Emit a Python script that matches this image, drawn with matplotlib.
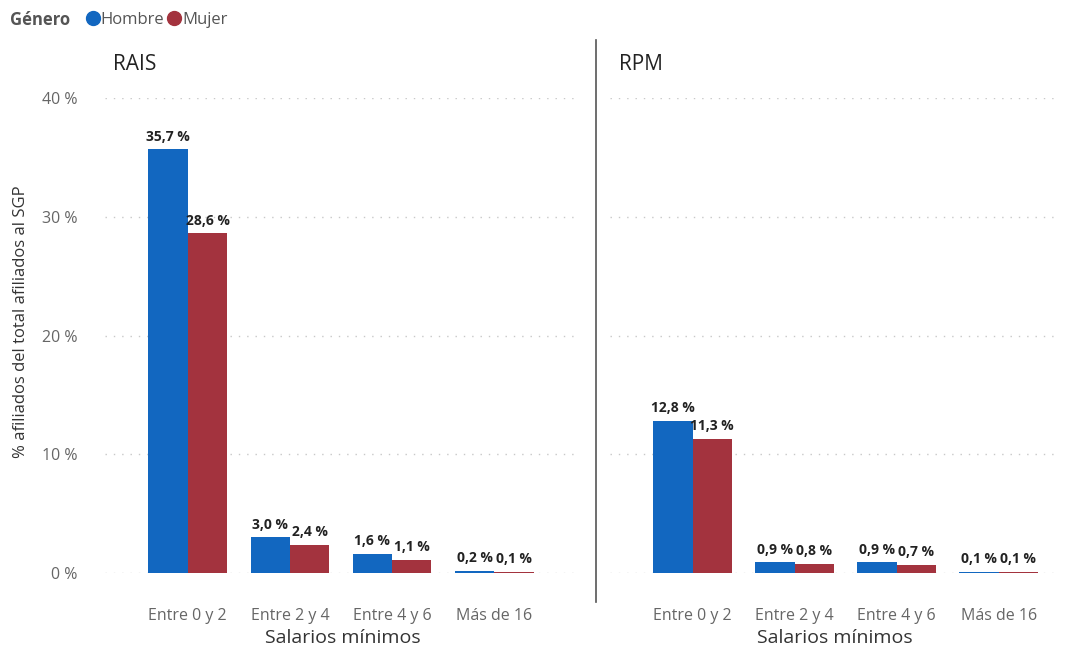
import matplotlib.pyplot as plt
from matplotlib.lines import Line2D
import numpy as np

plt.rcParams['font.family'] = ['Open Sans', 'DejaVu Sans']

categorias = ['Entre 0 y 2', 'Entre 2 y 4', 'Entre 4 y 6', 'Más de 16']
rais_hombre = [35.7, 3.0, 1.6, 0.2]
rais_mujer = [28.6, 2.4, 1.1, 0.1]
rpm_hombre = [12.8, 0.9, 0.9, 0.1]
rpm_mujer = [11.3, 0.8, 0.7, 0.1]
yticks = [0, 10, 20, 30, 40]

azul = '#1267C0'
rojo = '#A3333E'
gris = '#666666'


def fmt(v):
    return f'{v:.1f} %'.replace('.', ',')


def panel(ax, titulo, hombre, mujer, show_y):
    x = np.arange(len(categorias))
    w = 0.385
    b1 = ax.bar(x - w / 2, hombre, w, color=azul, zorder=3)
    b2 = ax.bar(x + w / 2, mujer, w, color=rojo, zorder=3)
    for bars, vals in ((b1, hombre), (b2, mujer)):
        for b, v in zip(bars, vals):
            ax.annotate(fmt(v), (b.get_x() + b.get_width() / 2, v),
                        xytext=(0, 4), textcoords='offset points',
                        ha='center', va='bottom', fontsize=10,
                        fontweight='bold', color='#222222', zorder=4)
    ax.set_ylim(0, 40)
    ax.set_yticks(yticks)
    ax.set_xticks(x)
    ax.set_xticklabels(categorias, fontsize=11.5, color=gris)
    ax.tick_params(axis='x', length=0, pad=25)
    ax.tick_params(axis='y', length=0, pad=20)
    if show_y:
        ax.set_yticklabels([f'{t} %' for t in yticks], fontsize=11.5, color=gris)
    else:
        ax.set_yticklabels([])
    ax.grid(axis='y', color='#C8C8C8', linestyle=(0, (1, 5)), linewidth=1, zorder=0)
    for s in ax.spines.values():
        s.set_visible(False)
    ax.set_xlabel('Salarios mínimos', fontsize=14, color='#333333', labelpad=4)
    ax.text(0.017 if show_y else 0.02, 1.07, titulo, transform=ax.transAxes,
            fontsize=15, color='#222222', va='center')


fig = plt.figure(figsize=(10.75, 6.53), dpi=100)
ax1 = fig.add_axes([0.0977, 0.1225, 0.4419, 0.7274])
ax1.set_xlim(-0.81, 3.84)
ax2 = fig.add_axes([0.5674, 0.1225, 0.4186, 0.7274])
ax2.set_xlim(-0.81, 3.6)

panel(ax1, 'RAIS', rais_hombre, rais_mujer, True)
panel(ax2, 'RPM', rpm_hombre, rpm_mujer, False)

ax1.set_ylabel('% afiliados del total afiliados al SGP', fontsize=12,
               color='#333333')
ax1.yaxis.set_label_coords(-0.16, 0.53)

fig.add_artist(Line2D([596 / 1075, 596 / 1075], [1 - 40 / 653, 1 - 602 / 653],
                      color='#555555', linewidth=1.2))

fig.text(10 / 1075, 1 - 20 / 653, 'Género', fontsize=12, fontweight='bold',
         color='#555555', va='center')
handles = [Line2D([], [], marker='o', linestyle='', color=azul, markersize=10),
           Line2D([], [], marker='o', linestyle='', color=rojo, markersize=10)]
fig.legend(handles, ['Hombre', 'Mujer'], loc='center left',
           bbox_to_anchor=(85 / 1075, 1 - 20 / 653), ncol=2, frameon=False,
           fontsize=12, handlelength=0.9, handletextpad=0.0, columnspacing=0.2,
           labelcolor='#555555', borderaxespad=0, borderpad=0)

fig.savefig('out.png', dpi=100)
